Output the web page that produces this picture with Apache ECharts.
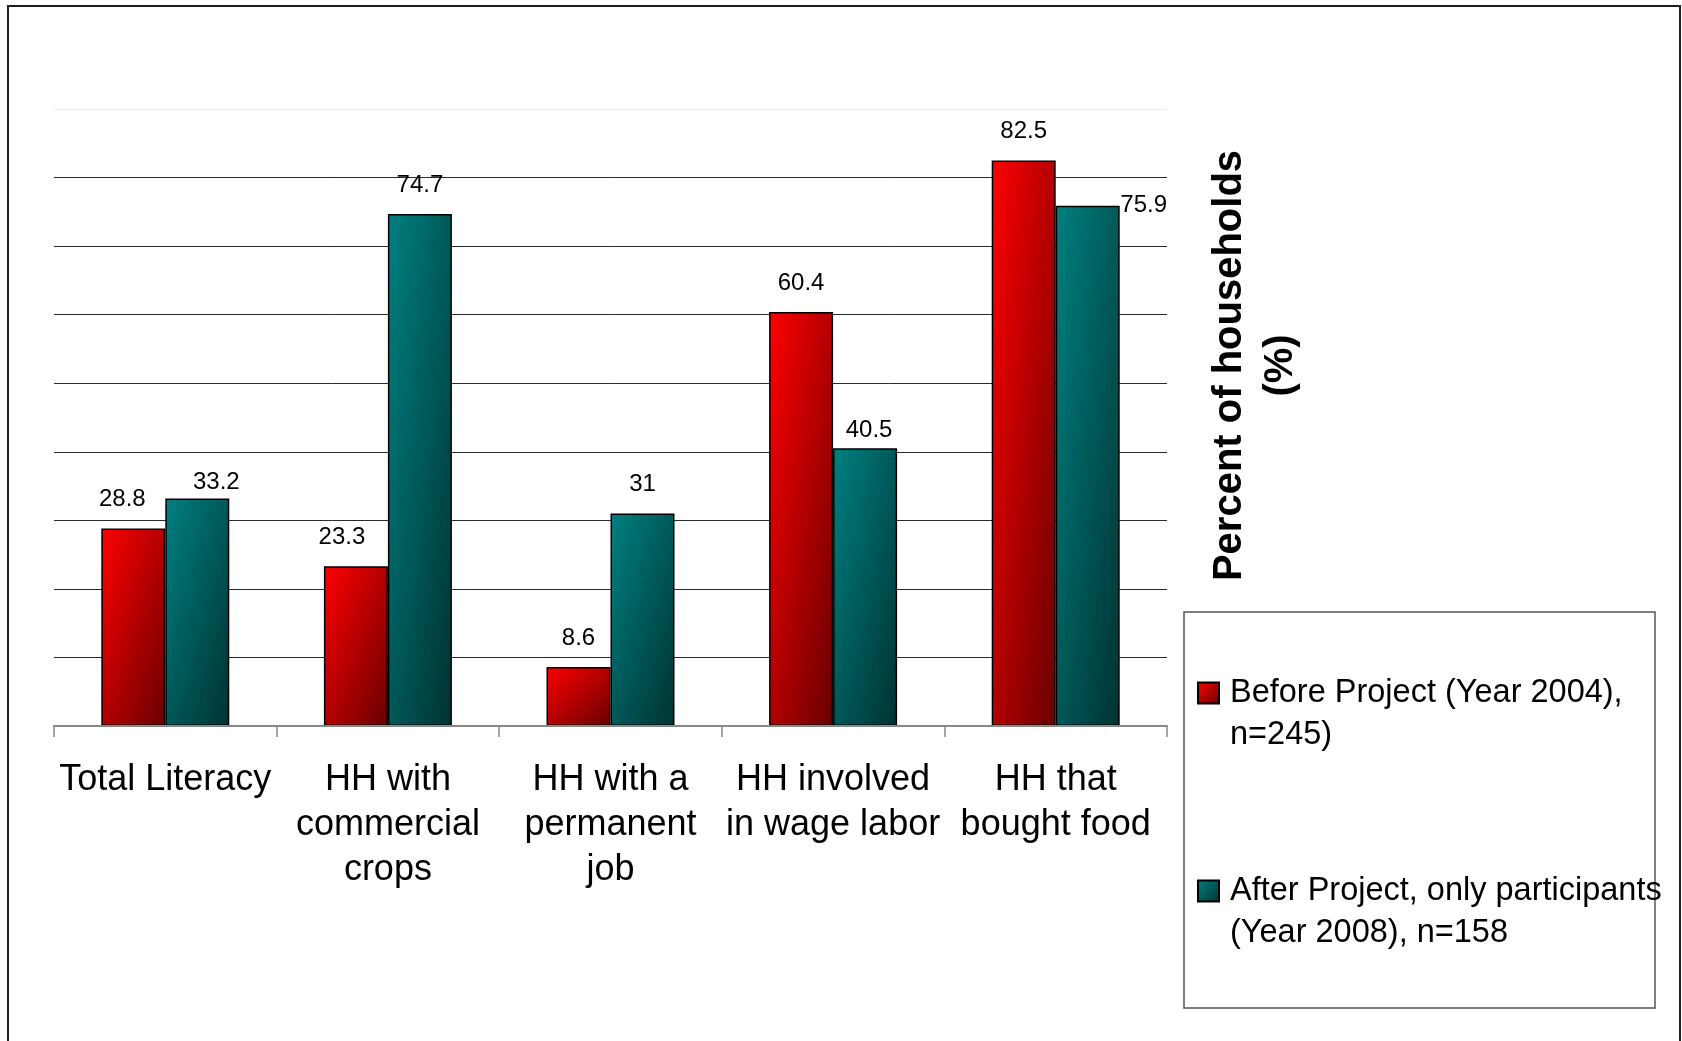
<!DOCTYPE html>
<html>
<head>
<meta charset="utf-8">
<title>Household indicators before and after the project</title>
<script src="https://cdn.jsdelivr.net/npm/echarts@6/dist/echarts.min.js"></script>
<style>
  html, body { margin: 0; padding: 0; background: #fff; }
  #chart { width: 1682px; height: 1041px; }
</style>
</head>
<body>
<div id="chart"></div>
<script>
// ---- data ----
const categories = [
  'Total Literacy',
  'HH with\ncommercial\ncrops',
  'HH with a\npermanent\njob',
  'HH involved\nin wage labor',
  'HH that\nbought food'
];
const beforeValues = [28.8, 23.3, 8.6, 60.4, 82.5];
const afterValues = [33.2, 74.7, 31, 40.5, 75.9];
const seriesNames = [
  'Before Project (Year 2004),\nn=245)',
  'After Project, only participants\n(Year 2008), n=158'
];
const axisTitle = 'Percent of households\n(%)';
const yMin = 0;
const yMax = 90;
const yStep = 10;

// ---- presentation ----
const FONT = 'Liberation Sans, Arial, Helvetica, sans-serif';
const PLOT = { left: 54, right: 1167, top: 109, bottom: 726 };
const BAR_W = 64;
const redStops = ['#ff0000', '#680000'];
const tealStops = ['#008080', '#003232'];
// value-label nudges [dx, dy] so neighbouring labels do not collide
const beforeNudge = [[-11, 0], [-14, 0], [0, 0], [0, 0], [0, 0]];
const afterNudge = [[19, 13], [0, 0], [0, 0], [4, 11], [56, 29]];

// Diagonal shading that runs corner to corner of each bar, whatever its height.
function diagGradient(stops, w, h) {
  const s = w * w + h * h;
  return new echarts.graphic.LinearGradient(0, 0, 2 * h * h / s, 2 * w * w / s, [
    { offset: 0, color: stops[0] },
    { offset: 1, color: stops[1] }
  ]);
}
function squareGradient(stops) {
  return new echarts.graphic.LinearGradient(0, 0, 1, 1, [
    { offset: 0, color: stops[0] },
    { offset: 1, color: stops[1] }
  ]);
}
function buildData(values, stops, nudges) {
  const pxPerUnit = (PLOT.bottom - PLOT.top) / (yMax - yMin);
  return values.map(function (v, i) {
    const h = Math.max(1, v * pxPerUnit);
    return {
      value: v,
      itemStyle: { color: diagGradient(stops, BAR_W, h) },
      label: { offset: nudges[i] }
    };
  });
}

const gridColors = [];
for (let v = yMin; v <= yMax; v += yStep) {
  gridColors.push(v === yMin ? '#888888' : (v === yMax ? '#eeeeee' : '#2a2a2a'));
}

const barLabel = {
  show: true,
  position: 'top',
  distance: 17,
  color: '#000',
  fontFamily: FONT,
  fontSize: 24
};

const chart = echarts.init(document.getElementById('chart'), null, { renderer: 'canvas' });
chart.setOption({
  backgroundColor: '#ffffff',
  animation: false,
  textStyle: { fontFamily: FONT },
  grid: {
    left: PLOT.left,
    right: 1682 - PLOT.right,
    top: PLOT.top,
    bottom: 1041 - PLOT.bottom,
    containLabel: false
  },
  legend: {
    orient: 'vertical',
    left: 1197,
    top: 630,
    itemWidth: 21,
    itemHeight: 21,
    itemGap: 72,
    padding: 0,
    icon: 'rect',
    selectedMode: false,
    // a leading empty line keeps the marker level with the first text line
    formatter: function (name) { return '\n' + name; },
    textStyle: {
      fontFamily: FONT,
      fontSize: 32.5,
      lineHeight: 42,
      color: '#000',
      padding: [0, 0, 0, 6]
    },
    data: seriesNames
  },
  xAxis: {
    type: 'category',
    data: categories,
    axisLine: { show: true, lineStyle: { color: '#888888', width: 2 } },
    axisTick: { show: true, length: 11, lineStyle: { color: '#888888', width: 1.5 } },
    axisLabel: {
      interval: 0,
      margin: 32,
      color: '#000',
      fontFamily: FONT,
      fontSize: 36,
      lineHeight: 45
    },
    z: 3
  },
  yAxis: {
    type: 'value',
    position: 'right',
    min: yMin,
    max: yMax,
    interval: yStep,
    axisLine: { show: false },
    axisTick: { show: false },
    axisLabel: { show: false },
    splitLine: { show: true, lineStyle: { color: gridColors, width: 1 } },
    name: axisTitle,
    nameLocation: 'middle',
    nameRotate: 90,
    nameGap: 37,
    nameTextStyle: {
      fontFamily: FONT,
      fontSize: 40,
      fontWeight: 'bold',
      lineHeight: 51,
      color: '#000',
      align: 'center',
      padding: [0, 0, 0, 104]
    }
  },
  series: [
    {
      name: seriesNames[0],
      type: 'bar',
      barWidth: BAR_W,
      barGap: '0%',
      itemStyle: { color: squareGradient(redStops), borderColor: '#000', borderWidth: 1.5 },
      label: barLabel,
      data: buildData(beforeValues, redStops, beforeNudge)
    },
    {
      name: seriesNames[1],
      type: 'bar',
      barWidth: BAR_W,
      barGap: '0%',
      itemStyle: { color: squareGradient(tealStops), borderColor: '#000', borderWidth: 1.5 },
      label: barLabel,
      data: buildData(afterValues, tealStops, afterNudge)
    }
  ],
  graphic: [
    {
      type: 'rect',
      shape: { x: 8, y: 6, width: 1672, height: 1060 },
      style: { fill: 'none', stroke: '#1e1e1e', lineWidth: 2 },
      silent: true,
      z: -1
    },
    {
      type: 'rect',
      shape: { x: 1184, y: 612, width: 471, height: 396 },
      style: { fill: 'none', stroke: '#555555', lineWidth: 1.5 },
      silent: true,
      z: -1
    }
  ]
});
</script>
</body>
</html>
